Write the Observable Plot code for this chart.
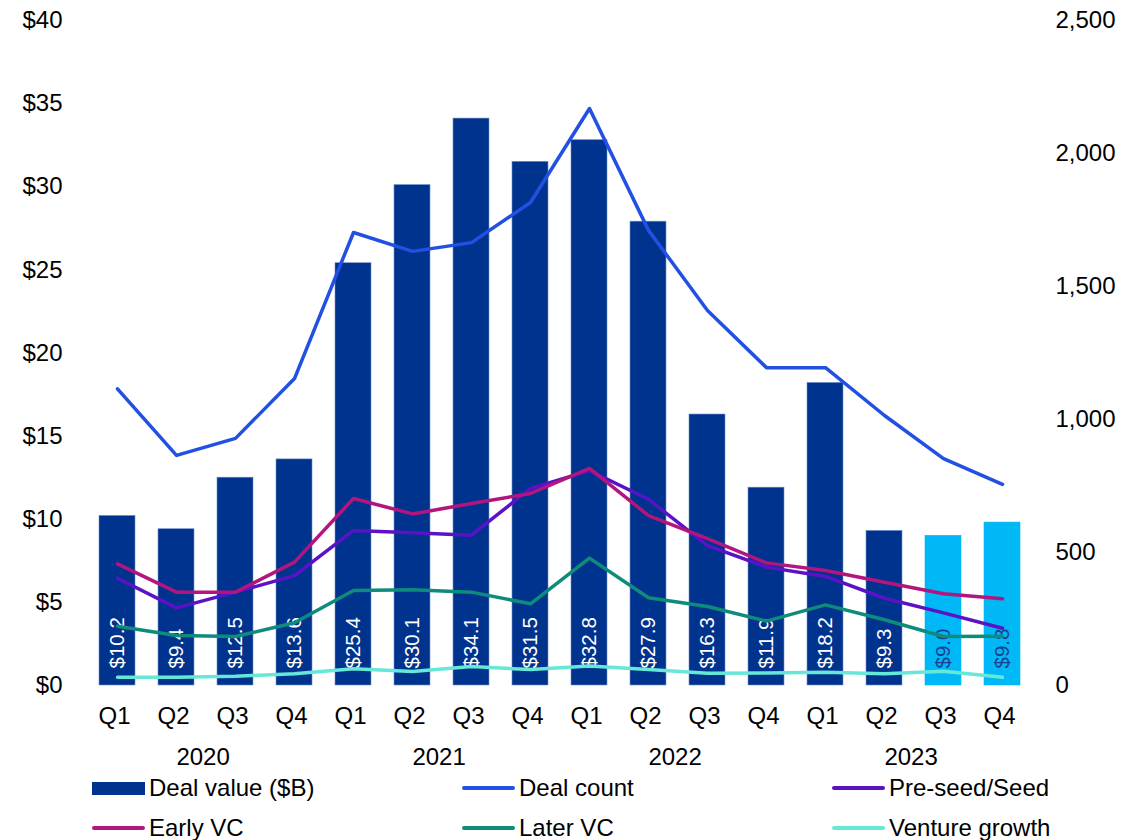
<!DOCTYPE html>
<html><head><meta charset="utf-8">
<script src="https://cdn.jsdelivr.net/npm/d3@7"></script>
<script src="https://cdn.jsdelivr.net/npm/@observablehq/plot@0.6"></script>
<style>
body{margin:0;background:#fff;font-family:"Liberation Sans",Arial,sans-serif;overflow:hidden}
#chart svg{display:block;overflow:visible}
#legend{position:relative;width:1124px;height:72px;font-size:24px;color:#000;margin-top:-12px}
.item{position:absolute;display:flex;align-items:center;height:40px;white-space:nowrap}
.sw{width:53px;margin-right:4px}
</style></head><body><div id="chart"></div><div id="legend"></div>
<script>
const years = ["2020","2021","2022","2023"];
const quarters = ["Q1","Q2","Q3","Q4"];
const dealValue = [10.2,9.4,12.5,13.6,25.4,30.1,34.1,31.5,32.8,27.9,16.3,11.9,18.2,9.3,9.0,9.8];
const dealCount = [1115,865,929,1154,1703,1632,1665,1816,2169,1711,1410,1195,1195,1015,853,756];
const preSeed = [403,292,351,413,583,574,565,741,808,700,526,445,410,328,273,215];
const earlyVC = [457,351,351,464,703,645,684,722,816,639,552,461,432,388,345,326];
const laterVC = [223,188,184,236,357,360,351,307,479,330,297,242,303,247,184,185];
const ventureGrowth = [31,31,35,44,63,53,71,60,73,60,46,47,50,44,54,31];
const leftTicks = [0,5,10,15,20,25,30,35,40];
const rightTicks = [0,500,1000,1500,2000,2500];

const keys = years.flatMap(y => quarters.map(q => y + " " + q));
const W = 1124, H = 780, mL = 86, mR = 92, mT = 20, mB = 95;
const step = (W - mL - mR) / keys.length;
const k = 40 / 2500;

const bars = keys.map((key, i) => ({key, v: dealValue[i], est: i >= 14}));
const series = [
  {name: "Deal count", vals: dealCount, color: "#2150E3"},
  {name: "Pre-seed/Seed", vals: preSeed, color: "#5A12C6"},
  {name: "Early VC", vals: earlyVC, color: "#B3157F"},
  {name: "Later VC", vals: laterVC, color: "#0E8C7B"},
  {name: "Venture growth", vals: ventureGrowth, color: "#66E8D9"}
];
const lineData = series.flatMap(s => s.vals.map((v, i) => ({name: s.name, key: keys[i], y: v * k})));

const chart = Plot.plot({
  width: W, height: H,
  marginLeft: mL, marginRight: mR, marginTop: mT, marginBottom: mB,
  style: {fontFamily: "'Liberation Sans', Arial, sans-serif", fontSize: "24px", color: "#000", background: "#fff", overflow: "visible"},
  x: {domain: keys, paddingInner: 0.39, paddingOuter: 0.195},
  y: {domain: [0, 40]},
  color: {domain: series.map(s => s.name), range: series.map(s => s.color)},
  marks: [
    Plot.barY(bars, {x: "key", y: "v", fill: d => d.est ? "#00B8F5" : "#00338D", stroke: d => d.est ? "#00B8F5" : "#6f8fc9", strokeWidth: 0.6}),
    Plot.text(bars, {x: "key", y: 0, text: d => "$" + d.v.toFixed(1), rotate: -90, textAnchor: "start", lineAnchor: "middle", dy: -17, fill: d => d.est ? "#1B3F92" : "#fff", fontSize: 20.5}),
    Plot.line(lineData, {x: "key", y: "y", z: "name", stroke: "name", strokeWidth: 3.5, strokeLinejoin: "round", strokeLinecap: "round"}),
    Plot.axisY(leftTicks, {anchor: "left", tickSize: 0, tickPadding: 24, tickFormat: d => "$" + d, label: null}),
    Plot.axisY(rightTicks.map(v => v * k), {anchor: "right", tickSize: 0, tickPadding: 23, tickFormat: d => d3.format(",")(Math.round(d / k)), label: null}),
    Plot.axisX(keys, {tickSize: 0, tickPadding: 21, tickFormat: d => d.slice(5), dx: -3, label: null}),
    Plot.axisX(keys.filter(d => d.endsWith("Q2")), {tickSize: 0, tickPadding: 62, tickFormat: d => d.slice(0, 4), dx: step / 2 - 3, label: null})
  ]
});
document.getElementById("chart").appendChild(chart);

const legendItems = [
  {name: "Deal value ($B)", color: "#00338D", bar: true},
  ...series.map(s => ({name: s.name, color: s.color, bar: false}))
];
const lg = document.getElementById("legend");
legendItems.forEach((it, i) => {
  const col = i % 3, row = Math.floor(i / 3);
  const d = document.createElement("div");
  d.className = "item";
  d.style.left = (92 + col * 370) + "px";
  d.style.top = (row * 40) + "px";
  const sw = document.createElement("span");
  sw.className = "sw";
  sw.style.background = it.color;
  sw.style.height = it.bar ? "13px" : "4px";
  sw.style.borderRadius = it.bar ? "0" : "2px";
  d.appendChild(sw);
  const t = document.createElement("span");
  t.textContent = it.name;
  d.appendChild(t);
  lg.appendChild(d);
});
</script></body></html>
